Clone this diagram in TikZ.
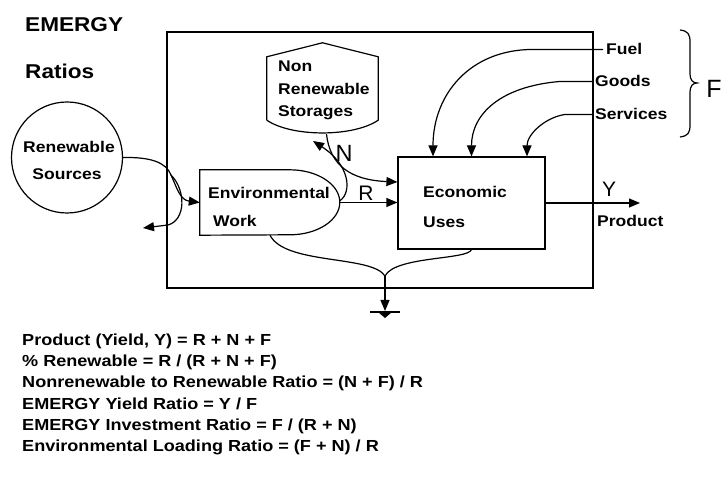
\documentclass[tikz,border=0pt]{standalone}
\usepackage{fontspec}
\setmainfont{Liberation Sans}
\newfontfamily\scanfont{Liberation Sans}[FakeStretch=1.13]
\usetikzlibrary{arrows.meta}

\tikzset{
  flow/.style={line width=1.2pt},
  arr/.style={flow,-{Triangle[length=11pt,width=9pt]}},
  txt/.style={anchor=base west,inner sep=0pt,font=\scanfont\bfseries\fontsize{15.5}{18}\selectfont},
  ratio/.style={txt,font=\scanfont\bfseries\fontsize{16}{18}\selectfont},
  big/.style={anchor=base west,inner sep=0pt,font=\scanfont\bfseries\fontsize{20}{24}\selectfont},
  sym/.style={anchor=base,inner sep=0pt,font=\fontsize{21}{24}\selectfont},
}

\begin{document}
\begin{tikzpicture}[x=1pt,y=-1pt]
\useasboundingbox (0,0) rectangle (721,502);
\node[big] (emergy) at (25,32) {EMERGY};
\node[big] (ratios) at (25,79) {Ratios};
\node[draw,flow,minimum width=426pt,minimum height=256pt] (sys) at (380,160) {};
\node[draw,flow,circle,minimum size=111pt] (ren) at (67,157.5) {};
\node[txt,anchor=base] (rena) at (69,153) {Renewable};
\node[txt,anchor=base] (renb) at (67,180) {Sources};
\node[minimum width=111pt,minimum height=63pt] (store) at (322.5,88.5) {};
\draw[flow] (store.south west) -- (store.north west) -- ([yshift=14pt]store.north) -- (store.north east) -- (store.south east) .. controls +(-25,17) and +(25,17) .. (store.south west);
\node[txt] (storea) at (278,72) {Non};
\node[txt] (storeb) at (278,95) {Renewable};
\node[txt] (storec) at (278,117) {Storages};
\node[minimum width=140pt,minimum height=65pt] (envw) at (270,202.5) {};
\draw[flow] (envw.north west) -- ++(90,0) arc[start angle=90,end angle=-90,x radius=50pt,y radius=32.5pt] -- (envw.south west) -- cycle;
\node[txt] (envwa) at (208,199) {Environmental};
\node[txt] (envwb) at (213,227) {Work};
\node[draw,flow,minimum width=147pt,minimum height=92pt] (econ) at (471.5,203) {};
\node[txt] (econa) at (423,198) {Economic};
\node[txt] (econb) at (423,228) {Uses};
\node[txt,inner xsep=3pt] (fuel) at (603,55) {Fuel};
\node[txt,inner xsep=2pt] (goods) at (593,87) {Goods};
\node[txt,inner xsep=2pt] (services) at (593,120) {Services};
\node[txt] (product) at (597,227) {Product};
\node[sym] (ylbl) at (609,197) {Y};
\node[sym] (rlbl) at (366,201) {R};
\node[sym,font=\fontsize{23.5}{26}\selectfont] (nlbl) at (344,162) {N};
\node[sym,font=\fontsize{25}{28}\selectfont] (flbl) at (714,98) {F};
\coordinate (split) at (171,175);
\coordinate (lost) at (143,228);
\coordinate (stin) at (313,141);
\coordinate (junc) at (385,276);
\coordinate (sink) at (385,311);
\coordinate (yout) at (640,203);
\draw[flow] (ren.east) .. controls (150,157) and (166,162) .. (split);
\draw[arr] (split) .. controls (177,188) and (180,200) .. (envw.west);
\draw[arr] (split) .. controls (186,190) and (186,220) .. (168,225) -- (lost);
\draw[arr] (envw.east) -- (envw.east -| econ.west);
\draw[arr] ([yshift=2pt]envw.east) .. controls (352,192) and (350,165) .. (stin);
\draw[arr] ([xshift=4pt,yshift=-14pt]store.south) .. controls (330,165) and (350,180) .. ([yshift=21pt]econ.west);
\draw[arr] (fuel.west) -- ++(-70,0) .. controls +(-63,0) and +(0,-62) .. ([xshift=-38.5pt]econ.north);
\draw[arr] (goods.west) -- ++(-33,0) .. controls +(-60,5) and +(0,-42) .. (econ.north);
\draw[arr] (services.west) -- ++(-28,0) .. controls +(-20,3) and +(0,-22) .. ([xshift=55.5pt]econ.north);
\draw[arr] (econ.east) -- (yout);
\draw[flow] (envw.south) .. controls (285,265) and (372,255) .. (junc);
\draw[flow] (econ.south) .. controls (468,260) and (395,256) .. (junc);
\draw[arr] (junc) -- (sink);
\draw[flow] ([xshift=-15pt,yshift=-1pt]sink) -- ([xshift=15pt,yshift=-1pt]sink);
\fill ([xshift=-7pt,yshift=-1pt]sink) -- ([xshift=7pt,yshift=-1pt]sink) -- ([yshift=-7pt]sink) -- cycle;
\draw[flow] (680,30) .. controls (688,31) and (690,34) .. (690,42) -- (690,74) .. controls (690,80) and (693,83) .. (697,83) .. controls (693,83) and (690,86) .. (690,92) -- (690,125) .. controls (690,133) and (688,136) .. (680,137);
\node[ratio] (yieldeq) at (22,346) {Product (Yield, Y) = R + N + F};
\node[ratio] (renfrac) at (22,367) {\% Renewable = R / (R + N + F)};
\node[ratio] (nonren) at (22,388) {Nonrenewable to Renewable Ratio = (N + F) / R};
\node[ratio] (eyr) at (22,410) {EMERGY Yield Ratio = Y / F};
\node[ratio] (eir) at (22,431) {EMERGY Investment Ratio = F / (R + N)};
\node[ratio] (elr) at (22,452) {Environmental Loading Ratio = (F + N) / R};
\end{tikzpicture}
\end{document}
